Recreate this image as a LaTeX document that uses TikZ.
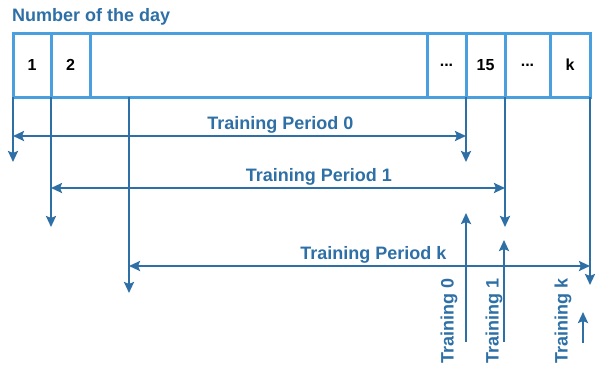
\documentclass[tikz,border=0pt]{standalone}
\usepackage{fontspec}
\setmainfont{Liberation Sans}
\usetikzlibrary{arrows.meta}
\usetikzlibrary{positioning}
\definecolor{cellblue}{RGB}{74,160,222}
\definecolor{arrblue}{RGB}{46,112,166}

\tikzset{
  cell/.style={draw=cellblue, line width=3pt, minimum height=64pt, inner sep=0, outer sep=0,
    font=\fontsize{16}{18}\selectfont\bfseries},
  conn/.style={arrblue, line width=2.4pt, >={Stealth[length=11pt,width=10pt,inset=2pt]}},
  lbl/.style={text=arrblue, inner sep=1pt, font=\fontsize{18}{20}\selectfont\bfseries}
}

\begin{document}
\begin{tikzpicture}[x=1pt, y=-1pt]
\useasboundingbox (0,0) rectangle (595,365);
\node[lbl, anchor=west] (title) at (11,17) {Number of the day};
% the row of days
\node[cell, minimum width=38pt] (c1) at (32,65) {1};
\node[cell, minimum width=39pt, right=0pt of c1] (c2) {2};
\node[cell, minimum width=337pt, right=0pt of c2] (cgap) {};
\node[cell, minimum width=39pt, right=0pt of cgap] (cd1) {...};
\node[cell, minimum width=39pt, right=0pt of cd1] (c15) {15};
\node[cell, minimum width=45pt, right=0pt of c15] (cd2) {...};
\node[cell, minimum width=40pt, right=0pt of cd2] (ck) {k};
% start and end of each period
\coordinate (s0) at (c1.south west);
\coordinate (s1) at (c2.south west);
\coordinate (sk) at (129,97);
\coordinate (e0) at (c15.south west);
\coordinate (e1) at (cd2.south west);
\coordinate (ek) at (ck.south east);
\foreach \a/\ya/\b/\yb/\yh/\p/\n in {s0/162/e0/162/136/.59/0, s1/227/e1/227/188/.59/1, sk/293/ek/285/266/.53/k} {
  \draw[conn, ->] (\a) -- (\a |- 0,\ya);
  \draw[conn, ->] (\b) -- (\b |- 0,\yb);
  \draw[conn, <->] (\a |- 0,\yh) -- node[lbl, above, pos=\p] (per\n) {Training Period \n} (\b |- 0,\yh);
}
% training runs
\coordinate (u0) at (466,342);
\coordinate (u1) at (504,342);
\coordinate (uk) at (583,343);
\draw[conn, ->] (u0) -- (u0 |- 0,213);
\draw[conn, ->] (u1) -- (u1 |- 0,240);
\draw[conn, ->] (uk) -- (uk |- 0,312);
\node[lbl, rotate=90] (t0) at (449,321) {Training 0};
\node[lbl, rotate=90] (t1) at (494,321) {Training 1};
\node[lbl, rotate=90] (tk) at (563,321) {Training k};
\end{tikzpicture}
\end{document}
